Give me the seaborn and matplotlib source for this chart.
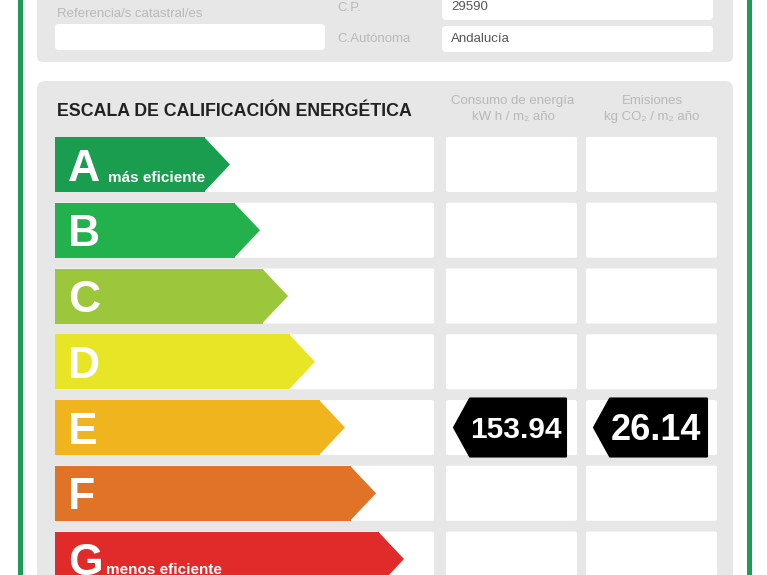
import matplotlib
matplotlib.use("Agg")
import matplotlib.pyplot as plt
from matplotlib.patches import Polygon, FancyBboxPatch, Rectangle
import seaborn as sns

# energy scale data
classes = ["A", "B", "C", "D", "E", "F", "G"]
arrow_len = [175, 205, 233, 260, 290, 321, 349]   # arrow length incl. tip (px)
class_colors = ["#1a9d4f", "#22b14c", "#9cc63c", "#e8e526",
                "#f0b41e", "#e07328", "#e12b2b"]
rating = "E"
consumo = "153.94"
emisiones = "26.14"

# header fields
cp = "29590"
comunidad = "Andalucía"

W, H = 767, 575
TIP = 25
PITCH = 65.75
FONT = ["Liberation Sans", "DejaVu Sans"]

sns.set_theme(style="white")
plt.rcParams["font.family"] = FONT

fig = plt.figure(figsize=(W / 100, H / 100), dpi=100)
fig.patch.set_facecolor("white")

# background layer in pixel coordinates
bg = fig.add_axes([0, 0, 1, 1])
bg.set_xlim(0, W)
bg.set_ylim(H, 0)
bg.axis("off")

grey = "#e7e7e7"
green = "#1e9a55"
bg.add_patch(Rectangle((18, -5), 5, H + 10, color=green, lw=0))
bg.add_patch(Rectangle((747, -5), 5, H + 10, color=green, lw=0))
bg.add_patch(FancyBboxPatch((37, -20), 696, 82, boxstyle="round,pad=0,rounding_size=6",
                            fc=grey, ec="none"))
bg.add_patch(FancyBboxPatch((37, 81), 696, 520, boxstyle="round,pad=0,rounding_size=8",
                            fc=grey, ec="none"))
for (x0, y0, w, h) in [(55, 24, 270, 26), (442, -10, 271, 30), (442, 26, 271, 26)]:
    bg.add_patch(FancyBboxPatch((x0, y0), w, h, boxstyle="round,pad=0,rounding_size=4",
                                fc="white", ec="none"))

lab = "#b9b9b9"
bg.text(57, 14, "Referencia/s catastral/es", fontsize=9.5, color=lab, va="center")
bg.text(337, 8, "C.P.", fontsize=9.5, color=lab, va="center")
bg.text(337, 39, "C.Autónoma", fontsize=9.5, color=lab, va="center")
bg.text(451, 7, cp, fontsize=9.5, color="#555555", va="center")
bg.text(451, 39, comunidad, fontsize=9.5, color="#555555", va="center")

bg.text(57, 116, "ESCALA DE CALIFICACIÓN ENERGÉTICA", fontsize=12.8, fontweight="bold",
        color="#222222", va="baseline")
hdr = "#b8b8b8"
bg.text(513, 101, "Consumo de energía", fontsize=9.5, color=hdr, ha="center", va="center")
bg.text(513, 117, "kW h / m\u2082 año", fontsize=9.5, color=hdr, ha="center", va="center")
bg.text(652, 101, "Emisiones", fontsize=9.5, color=hdr, ha="center", va="center")
bg.text(652, 117, "kg CO\u2082 / m\u2082 año", fontsize=9.5, color=hdr, ha="center", va="center")

# scale axes: x in px from the arrow start, y = class index
n = len(classes)
top_px = 164.5 - 0.5 * PITCH
ax = fig.add_axes([55 / W, 1 - (top_px + n * PITCH) / H, 662 / W, n * PITCH / H])
ax.set_facecolor("none")

body = [a - TIP for a in arrow_len]
bh = 55 / PITCH
sns.barplot(x=body, y=classes, hue=classes, palette=class_colors, orient="h",
            width=bh, saturation=1, linewidth=0, legend=False, ax=ax, zorder=3)

for i in range(n):
    for (x0, w) in [(0, 379), (391, 131), (531, 131)]:
        ax.add_patch(FancyBboxPatch((x0, i - bh / 2), w, bh,
                                    boxstyle="round,pad=0,rounding_size=2",
                                    fc="white", ec="none", zorder=1,
                                    mutation_aspect=1 / PITCH))

for p, c in zip(ax.patches[:n], class_colors):
    x1 = p.get_x() + p.get_width()
    y0, hh = p.get_y(), p.get_height()
    ax.add_patch(Polygon([(x1 - 1, y0), (x1 + TIP, y0 + hh / 2), (x1 - 1, y0 + hh)],
                         closed=True, fc=c, ec="none", zorder=3))

for i, c in enumerate(classes):
    ax.text(13, i + 16 / PITCH, c, fontsize=32, fontweight="bold", color="white",
            va="baseline", zorder=4)
ax.text(53, 0 + 17 / PITCH, "más eficiente", fontsize=11, fontweight="bold",
        color="white", va="baseline", zorder=4)
ax.text(51, n - 1 + 15 / PITCH, "menos eficiente", fontsize=11, fontweight="bold",
        color="white", va="baseline", zorder=4)

# black value tags on the rating row
r = classes.index(rating)
th = 29 / PITCH
for tip, right, val, fs, cx in [(399, 511, consumo, 21.5, 461), (539, 652, emisiones, 26, 601)]:
    ax.add_patch(Polygon([(tip, r), (tip + 16, r - th), (right, r - th),
                          (right, r + th), (tip + 16, r + th)], closed=True,
                         fc="black", ec="black", lw=1.5, joinstyle="round", zorder=5))
    cap = fs * 100 / 72 * 0.716
    ax.text(cx, r + cap / 2 / PITCH, val, fontsize=fs, fontweight="bold",
            color="white", ha="center", va="baseline", zorder=6)

ax.set_xlim(0, 662)
ax.set_ylim(n - 0.5, -0.5)
ax.axis("off")

fig.savefig("out.png", dpi=100)
